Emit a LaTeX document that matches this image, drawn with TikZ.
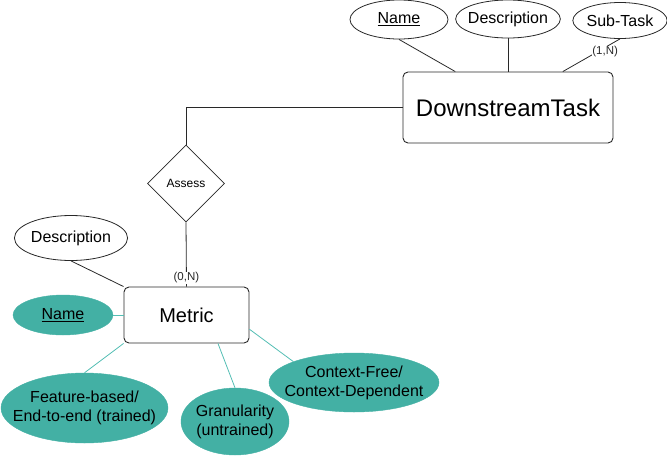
\documentclass[tikz,border=0pt]{standalone}
\usepackage{fontspec}
\setmainfont{Liberation Sans}
\usepackage{tikz}
\usetikzlibrary{calc,positioning,shapes.geometric}
\definecolor{erTeal}{RGB}{67,176,164}
\definecolor{erTealLine}{RGB}{84,190,180}
\definecolor{erGray}{RGB}{40,40,40}

\tikzset{
    entity/.style={draw=erGray, line width=0.9pt, rounded corners=5pt, fill=white, align=center},
    attr/.style={ellipse, draw=erGray, line width=0.8pt, fill=white, inner sep=0pt, font=\fontsize{16}{19}\selectfont},
    tealattr/.style={ellipse, fill=erTeal, draw=erTeal, inner sep=0pt, align=center, font=\fontsize{16}{19}\selectfont},
    relation/.style={diamond, draw=erGray, line width=0.8pt, fill=white, inner sep=0pt, font=\fontsize{12}{14}\selectfont},
    link/.style={erGray, line width=0.8pt},
    tealLink/.style={erTealLine, line width=0.8pt},
    card/.style={fill=white, inner sep=0.6pt, font=\fontsize{11.5}{13}\selectfont}
}

\begin{document}
\begin{tikzpicture}[x=1pt,y=-1pt]
    \useasboundingbox (0,0) rectangle (667,456);

    % entities
    \node[entity, minimum width=210pt, minimum height=71pt, font=\fontsize{24}{28}\selectfont] (task) at (508,107.5) {DownstreamTask};
    \node[entity, minimum width=125pt, minimum height=56pt, font=\fontsize{20}{24}\selectfont] (metric) at (186.5,315) {Metric};

    % relation
    \node[relation, minimum width=77pt, minimum height=77pt] (assess) at (186,183.5) {Assess};

    % attributes of the task
    \node[attr, minimum width=98pt, minimum height=39pt] (tName) at (399,19.5) {\underline{Name}};
    \node[attr, minimum width=94pt, minimum height=38pt, inner xsep=-3pt] (tDesc) at (508,19) {Description};
    \node[attr, minimum width=90pt, minimum height=36pt] (tSub) at (620,20.5) {Sub-Task};

    % attributes of the metric
    \node[attr, minimum width=112pt, minimum height=45pt] (mDesc) at (71,238) {Description};
    \node[tealattr, minimum width=100pt, minimum height=40pt] (mName) at (63,315) {\underline{Name}};
    \node[tealattr, minimum width=167pt, minimum height=70pt, inner xsep=-18pt] (mFeat) at (84.5,408) {Feature-based/\\End-to-end (trained)};
    \node[tealattr, minimum width=108pt, minimum height=67pt, inner xsep=-1pt] (mGran) at (235,421.5) {Granularity\\(untrained)};
    \node[tealattr, minimum width=170pt, minimum height=59pt, inner xsep=-10pt] (mCtx) at (354,382.5) {Context-Free/\\Context-Dependent};

    % task links
    \draw[link] (tName.south) -- ($(task.north west)!0.25!(task.north east)$);
    \draw[link] (tDesc.south) -- (task.north);
    \draw[link] (tSub.south) -- node[card, pos=0.4, xshift=8pt] {(1,N)} ($(task.north west)!0.76!(task.north east)$);

    % relation links
    \draw[link] (task.west) -| (assess.north);
    \draw[link] (assess.south) -- node[card, pos=0.86] {(0,N)} (metric.north);

    % metric links
    \draw[link] (mDesc.south) -- (metric.north west);
    \draw[tealLink] (mName.east) -- (metric.west);
    \draw[tealLink] (mFeat.north) -- (metric.south west);
    \draw[tealLink] (mGran.north) -- ($(metric.south west)!0.75!(metric.south east)$);
    \draw[tealLink] (mCtx.161) -- ($(metric.north east)!0.75!(metric.south east)$);
\end{tikzpicture}
\end{document}
